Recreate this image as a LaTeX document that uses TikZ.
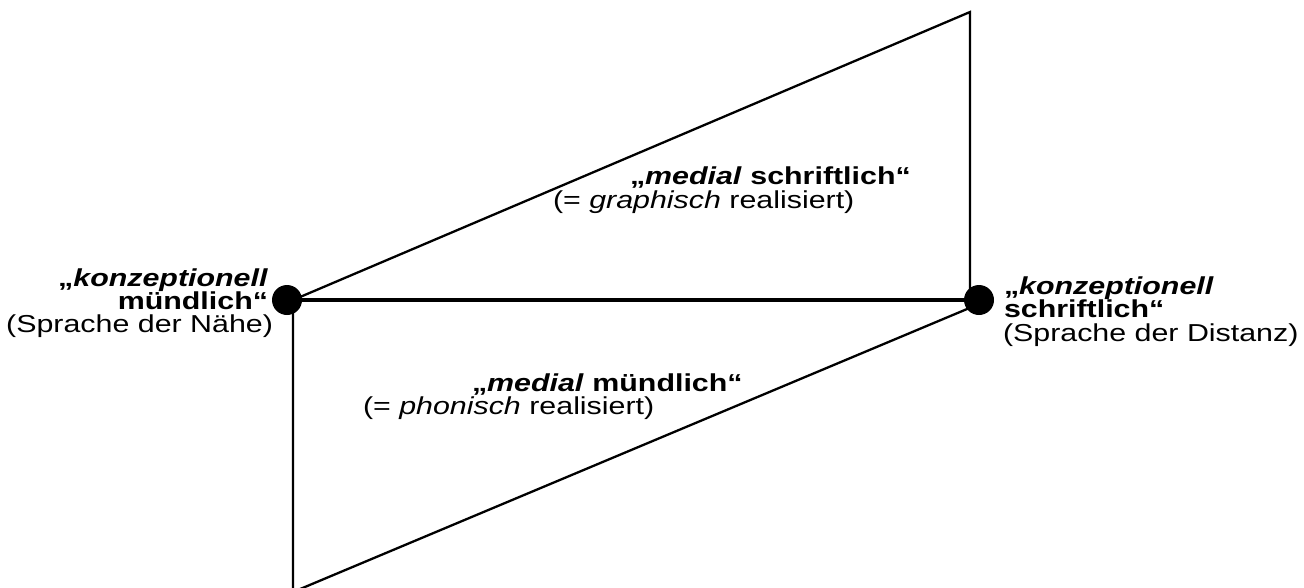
\documentclass[tikz,border=0pt]{standalone}
\usepackage{fontspec}
\setmainfont{Liberation Sans}[FakeStretch=1.24]
\begin{document}
\begin{tikzpicture}[x=1pt,y=-1pt,
  lbl/.style={font=\fontsize{24.5}{24}\selectfont, inner sep=0pt, outer sep=0pt},
  lblr/.style={lbl, anchor=base east},
  lbll/.style={lbl, anchor=base west},
  thin/.style={line width=2.3pt, line join=miter},
  thick/.style={line width=4pt},
  dot/.style={circle, fill=black, minimum size=30pt, inner sep=0pt}]
\useasboundingbox (0,0) rectangle (1304,587);
\clip (0,0) rectangle (1304,587);
% corners
\coordinate (LV) at (293,300);
\coordinate (RV) at (970,300);
\coordinate (T) at (970,12);
\coordinate (Bt) at (293,592);
\coordinate (Rl) at (979,304);
% shapes
\draw[thin] (LV) -- (T) -- (RV);
\draw[thin] (LV) -- (Bt) -- (Rl);
\node[dot] (L) at (287,300) {};
\node[dot] (R) at (979,300) {};
\draw[thick] (L.center) -- (R.center);
% left label
\node[lblr] (lt1) at (268,286) {\textbf{„\textit{konzeptionell}}};
\node[lblr] (lt2) at (268,309) {\textbf{mündlich“}};
\node[lblr] (lt3) at (273,332) {(Sprache der Nähe)};
% right label
\node[lbll] (rt1) at (1004,294) {\textbf{„\textit{konzeptionell}}};
\node[lbll] (rt2) at (1004,317) {\textbf{schriftlich“}};
\node[lbll] (rt3) at (1003,341) {(Sprache der Distanz)};
% middle labels
\node[lbll] (ms1) at (630,184) {\textbf{„\textit{medial} schriftlich“}};
\node[lbll] (ms2) at (553,208) {(= \textit{graphisch} realisiert)};
\node[lbll] (mm1) at (472,391) {\textbf{„\textit{medial} mündlich“}};
\node[lbll] (mm2) at (363,414) {(= \textit{phonisch} realisiert)};
\end{tikzpicture}
\end{document}
